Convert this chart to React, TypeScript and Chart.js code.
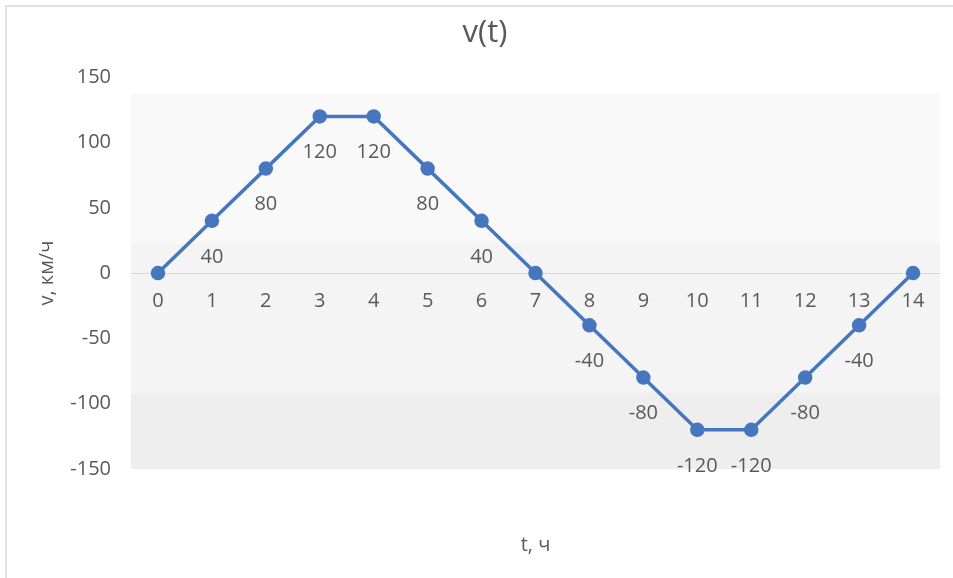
import React, { useEffect, useRef } from "react";
import { Chart, registerables } from "chart.js";

Chart.register(...registerables);

const categories: string[] = ["0", "1", "2", "3", "4", "5", "6", "7", "8", "9", "10", "11", "12", "13", "14"];
const velocity: number[] = [0, 40, 80, 120, 120, 80, 40, 0, -40, -80, -120, -120, -80, -40, 0];
const yTicks: number[] = [-150, -100, -50, 0, 50, 100, 150];
const chartTitle = "v(t)";
const xTitle = "t, ч";
const yTitle = "v, км/ч";

const FONT = "'Open Sans', 'DejaVu Sans', sans-serif";
const TEXT = "#595959";
const LINE = "#4677be";

const bandsPlugin = {
  id: "bands",
  beforeDraw(chart: any) {
    const { ctx, chartArea } = chart;
    const { left, right, top, bottom } = chartArea;
    const h = bottom - top;
    const stops = [
      [0.041, 0.4235, "#f9f9f9"],
      [0.4235, 0.806, "#f4f4f4"],
      [0.806, 1.0, "#eeeeee"],
    ] as [number, number, string][];
    ctx.save();
    for (const [a, b, c] of stops) {
      ctx.fillStyle = c;
      ctx.fillRect(left, top + a * h, right - left, (b - a) * h);
    }
    const y0 = chart.scales.y.getPixelForValue(0);
    ctx.strokeStyle = "#d9d9d9";
    ctx.lineWidth = 1;
    ctx.beginPath();
    ctx.moveTo(left, Math.round(y0) + 0.5);
    ctx.lineTo(right, Math.round(y0) + 0.5);
    ctx.stroke();
    ctx.restore();
  },
};

const labelsPlugin = {
  id: "pointLabels",
  afterDatasetsDraw(chart: any) {
    const { ctx } = chart;
    const meta = chart.getDatasetMeta(0);
    const data = chart.data.datasets[0].data as number[];
    ctx.save();
    ctx.font = `20px ${FONT}`;
    ctx.fillStyle = TEXT;
    ctx.textAlign = "center";
    ctx.textBaseline = "middle";
    meta.data.forEach((pt: any, i: number) => {
      const v = data[i];
      if (v === 0) return;
      ctx.fillText(String(v), pt.x, pt.y + 36);
    });
    ctx.restore();
  },
};

export default function App() {
  const ref = useRef<HTMLCanvasElement | null>(null);

  useEffect(() => {
    if (!ref.current) return;
    const chart = new Chart(ref.current, {
      type: "line",
      data: {
        labels: categories,
        datasets: [
          {
            data: velocity,
            borderColor: LINE,
            backgroundColor: LINE,
            borderWidth: 3.5,
            pointRadius: 5.5,
            pointBackgroundColor: LINE,
            pointBorderColor: LINE,
            tension: 0,
            xAxisID: "x",
            yAxisID: "y",
          },
        ],
      },
      options: {
        animation: false,
        responsive: false,
        devicePixelRatio: 1,
        layout: { padding: { left: 30, right: 13, top: 0, bottom: 0 } },
        plugins: {
          legend: { display: false },
          tooltip: { enabled: false },
          title: {
            display: true,
            text: chartTitle,
            color: TEXT,
            font: { family: FONT, size: 31, weight: "normal" },
            padding: { top: 15, bottom: 25 },
          },
        },
        scales: {
          x: {
            type: "category",
            offset: true,
            position: { y: 0 } as any,
            grid: { display: false, drawTicks: false },
            border: { display: false },
            ticks: {
              color: TEXT,
              font: { family: FONT, size: 20 },
              padding: 16,
              maxRotation: 0,
              autoSkip: false,
            },
          },
          xTitle: {
            type: "category",
            position: "bottom",
            offset: true,
            grid: { display: false, drawTicks: false },
            border: { display: false },
            ticks: { display: false },
            title: {
              display: true,
              text: xTitle,
              color: TEXT,
              font: { family: FONT, size: 20 },
              padding: { top: 0, bottom: 21 },
            },
            afterFit: (s: any) => {
              s.height = 109;
            },
          },
          y: {
            type: "linear",
            min: -150,
            max: 150,
            afterBuildTicks: (s: any) => {
              s.ticks = yTicks.map((v) => ({ value: v }));
            },
            grid: { display: false, drawTicks: false },
            border: { display: false },
            ticks: {
              color: TEXT,
              font: { family: FONT, size: 20 },
              padding: 20,
            },
            title: {
              display: true,
              text: yTitle,
              color: TEXT,
              font: { family: FONT, size: 20 },
              padding: { top: 5, bottom: 0 },
            },
            afterFit: (s: any) => {
              s.width = 101;
            },
          },
        },
      },
      plugins: [bandsPlugin, labelsPlugin],
    });
    return () => chart.destroy();
  }, []);

  return (
    <div>
      <div
        style={{
          position: "fixed",
          left: 5,
          top: 5,
          width: 1000,
          height: 1000,
          border: "2px solid #e2e2e2",
          boxSizing: "border-box",
        }}
      />
      <canvas
        ref={ref}
        width={953}
        height={578}
        style={{ position: "fixed", left: 0, top: 0, width: 953, height: 578 }}
      />
    </div>
  );
}
